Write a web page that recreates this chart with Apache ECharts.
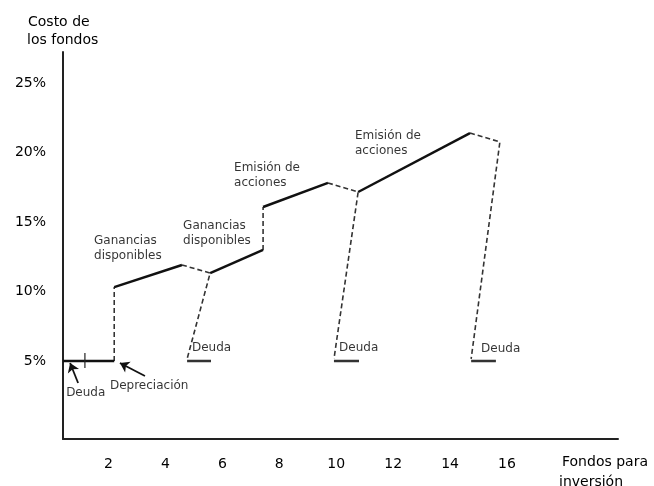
<!DOCTYPE html>
<html>
<head>
<meta charset="utf-8">
<script src="https://cdn.jsdelivr.net/npm/echarts@6/dist/echarts.min.js"></script>
<style>html,body{margin:0;padding:0;background:#fff}#c{width:654px;height:486px}</style>
</head>
<body>
<div id="c"></div>
<script>
// Tick labels
const xTicks = [2, 4, 6, 8, 10, 12, 14, 16];
const yTicks = [5, 10, 15, 20, 25];

// Solid cost segments [x (fondos), y (% costo)]
const solidSegments = [
  [[0.4, 5], [2.2, 5]],
  [[2.2, 10.32], [4.58, 11.91]],
  [[5.57, 11.33], [7.43, 12.99]],
  [[7.43, 16.08], [9.71, 17.81]],
  [[10.77, 17.16], [14.70, 21.40]]
];
// Short debt segments
const debtSegments = [
  [[4.76, 5], [5.60, 5]],
  [[9.92, 5], [10.80, 5]],
  [[14.74, 5], [15.61, 5]]
];
// Dashed connectors
const dashedSegments = [
  [[2.2, 5], [2.2, 10.32]],
  [[4.58, 11.91], [5.57, 11.33], [4.76, 5.15]],
  [[7.43, 12.99], [7.43, 16.08]],
  [[9.71, 17.81], [10.77, 17.16], [9.92, 5.15]],
  [[14.70, 21.40], [15.75, 20.76], [14.74, 5.15]]
];
// Small tick on first debt segment
const tickMark = [[1.17, 5.58], [1.17, 4.5]];

// Arrows [tail, tip]
const arrows = [
  [[0.93, 3.42], [0.65, 4.86]],
  [[3.28, 3.92], [2.40, 4.86]]
];

// Annotation texts and anchor points (left, middle of text block)
const labelTexts = [
  'Ganancias\ndisponibles', 'Ganancias\ndisponibles',
  'Emisión de\nacciones', 'Emisión de\nacciones',
  'Deuda', 'Deuda', 'Deuda', 'Deuda', 'Depreciación'
];
const labelPoints = [
  [1.49, 13.09], [4.62, 14.17],
  [6.41, 18.35], [10.66, 20.65],
  [4.93, 5.94], [10.10, 5.94], [15.09, 5.86], [0.51, 2.70],
  [2.05, 3.20]
];

const chart = echarts.init(document.getElementById('c'), null, {renderer: 'canvas'});
const FONT = 'DejaVu Sans';

chart.setOption({
  animation: false,
  backgroundColor: '#fff',
  grid: {left: 63, right: 36, top: 52, bottom: 47},
  xAxis: {
    type: 'value', min: 0.4, max: 19.9,
    axisLine: {show: true, onZero: false, lineStyle: {color: '#222', width: 2}},
    axisTick: {show: false},
    splitLine: {show: false},
    axisLabel: {customValues: xTicks, margin: 18, color: '#000', fontFamily: FONT, fontSize: 14}
  },
  yAxis: {
    type: 'value', min: -0.61, max: 27.23,
    axisLine: {show: true, onZero: false, lineStyle: {color: '#222', width: 2}},
    axisTick: {show: false},
    splitLine: {show: false},
    axisLabel: {customValues: yTicks, margin: 17, formatter: '{value}%', color: '#000', fontFamily: FONT, fontSize: 14}
  },
  graphic: [
    {type: 'text', left: 28, top: 15, style: {text: 'Costo de', font: '14px "DejaVu Sans"', fill: '#000'}},
    {type: 'text', left: 27, top: 33, style: {text: 'los fondos', font: '14px "DejaVu Sans"', fill: '#000'}},
    {type: 'text', left: 562, top: 455, style: {text: 'Fondos para', font: '14px "DejaVu Sans"', fill: '#000'}},
    {type: 'text', left: 559, top: 475, style: {text: 'inversión', font: '14px "DejaVu Sans"', fill: '#000'}}
  ],
  series: [
    {
      type: 'lines', coordinateSystem: 'cartesian2d', polyline: true,
      data: dashedSegments.map(c => ({coords: c})),
      lineStyle: {color: '#333', width: 1.6, type: [5, 3], opacity: 1},
      symbol: 'none', silent: true
    },
    {
      type: 'lines', coordinateSystem: 'cartesian2d', polyline: true,
      data: solidSegments.map(c => ({coords: c})),
      lineStyle: {color: '#111', width: 2.5, opacity: 1},
      symbol: 'none', silent: true
    },
    {
      type: 'lines', coordinateSystem: 'cartesian2d', polyline: true,
      data: debtSegments.map(c => ({coords: c})),
      lineStyle: {color: '#333', width: 2.5, opacity: 1},
      symbol: 'none', silent: true
    },
    {
      type: 'lines', coordinateSystem: 'cartesian2d', polyline: true,
      data: [{coords: tickMark}],
      lineStyle: {color: '#222', width: 1.2, opacity: 1},
      symbol: 'none', silent: true
    },
    {
      type: 'lines', coordinateSystem: 'cartesian2d',
      data: arrows.map(c => ({coords: c})),
      lineStyle: {color: '#111', width: 1.8, opacity: 1},
      symbol: ['none', 'arrow'], symbolSize: 9, silent: true
    },
    {
      type: 'scatter', symbolSize: 0, silent: true,
      data: labelPoints.map((p, i) => ({value: p, name: labelTexts[i]})),
      label: {
        show: true, position: [0, 0], align: 'left', verticalAlign: 'middle',
        formatter: p => p.name, color: '#000', fontFamily: FONT, fontSize: 12, lineHeight: 15
      }
    }
  ]
});
</script>
</body>
</html>
